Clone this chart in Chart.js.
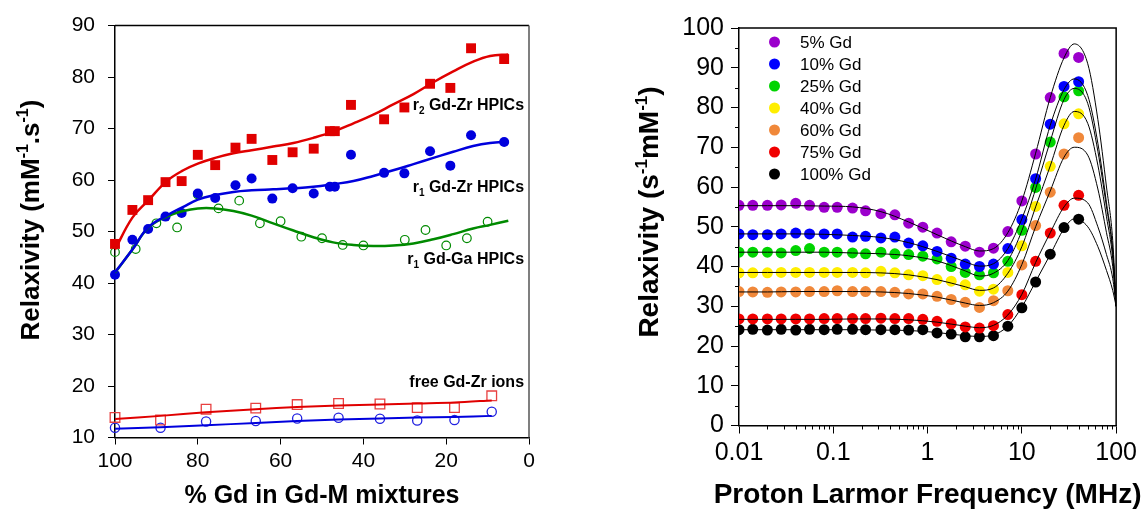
<!DOCTYPE html>
<html>
<head>
<meta charset="utf-8">
<script src="https://cdn.jsdelivr.net/npm/chart.js@4.4.1/dist/chart.umd.min.js"></script>
<style>
  body { margin: 0; background: #fff; width: 1142px; height: 510px; overflow: hidden; position: relative; }
  canvas { position: absolute; top: 0; }
  #left { left: 0; }
  #right { left: 580px; }
</style>
</head>
<body>
<canvas id="left" width="580" height="510"></canvas>
<canvas id="right" width="562" height="510"></canvas>
<script>
// ---- left panel: relaxivity vs % Gd ----
const hpicGd = [100, 95.8, 92.0, 87.8, 83.9, 80.0, 75.8, 70.9, 67.0, 62.0, 57.1, 52.0, 48.1, 46.9, 43.0, 35.0, 30.1, 23.9, 19.0, 14.0, 6.0];
const r2Zr = [47.6, 54.2, 56.1, 59.6, 59.8, 64.9, 62.9, 66.3, 68.0, 63.9, 65.4, 66.1, 69.5, 69.5, 74.6, 71.8, 74.1, 78.7, 77.9, 85.6, 83.5];
const r1Zr = [41.6, 48.4, 50.5, 52.9, 53.6, 57.4, 56.5, 59.0, 60.3, 56.4, 58.4, 57.4, 58.7, 58.7, 64.9, 61.4, 61.3, 65.6, 62.8, 68.7, 67.4];
const gaGd = [100, 95, 90, 85, 80, 75, 70, 65, 60, 55, 50, 45, 40, 30, 25, 20, 15, 10];
const r1Ga = [46.0, 46.6, 51.6, 50.8, 57.2, 54.5, 56.0, 51.6, 52.0, 49.0, 48.7, 47.4, 47.3, 48.4, 50.3, 47.3, 48.7, 51.9];

const fitGd = [100, 95.8, 92, 87.5, 83.5, 80, 75.8, 71.4, 67, 61.8, 56.9, 52.1, 47.3, 42.4, 37.6, 32.8, 27.9, 23.1, 18.3, 13.5, 9.4, 5];
const r2ZrFit = [46.5, 52.7, 56.0, 59.8, 61.9, 63.2, 64.3, 65.2, 65.8, 66.5, 67.2, 68.2, 69.4, 71.0, 72.7, 74.7, 76.7, 79.0, 81.1, 83.0, 84.1, 84.4];
const r1ZrFit = [42.1, 46.5, 50.8, 53.1, 54.8, 56.2, 57.1, 57.7, 58.0, 58.2, 58.4, 58.7, 59.2, 59.8, 60.8, 61.9, 63.1, 64.3, 65.5, 66.6, 67.2, 67.5];
const r1GaFit = [42.0, 46.5, 50.7, 52.9, 54.0, 54.5, 54.5, 54.0, 53.1, 51.6, 50.2, 48.9, 47.9, 47.4, 47.2, 47.3, 47.7, 48.5, 49.5, 50.6, 51.3, 52.1];

const freeGd = [100, 89, 78, 66, 56, 46, 36, 27, 18, 9];
const freeR2 = [13.9, 13.4, 15.5, 15.7, 16.4, 16.6, 16.5, 15.8, 15.8, 18.1];
const freeR1 = [11.9, 11.9, 13.1, 13.2, 13.7, 13.85, 13.65, 13.3, 13.4, 15.0];
const freeR2Fit = [13.6, 14.2, 14.9, 15.5, 15.9, 16.2, 16.4, 16.6, 16.8, 17.2];
const freeR1Fit = [11.7, 12.0, 12.4, 12.8, 13.2, 13.5, 13.7, 13.9, 14.0, 14.2];

const gdTicks = [100, 80, 60, 40, 20, 0];

// ---- right panel: NMRD profiles ----
const freq = [0.01, 0.014, 0.02, 0.028, 0.04, 0.056, 0.08, 0.11, 0.16, 0.22, 0.32, 0.45, 0.63, 0.89, 1.26, 1.78, 2.51, 3.55, 5.0, 7.1, 10, 14, 20, 28, 40];
const nmrdLabels = ['5% Gd', '10% Gd', '25% Gd', '40% Gd', '60% Gd', '75% Gd', '100% Gd'];
const nmrdColors = ['#9b00cc', '#0000ff', '#00d400', '#ffee00', '#f0883a', '#f00000', '#000000'];
const gd5 = [55.4, 55.4, 55.4, 55.5, 55.9, 55.4, 54.9, 54.9, 54.7, 54.0, 53.3, 53.0, 50.9, 49.9, 48.4, 46.2, 45.1, 43.6, 44.6, 48.8, 56.5, 68.3, 82.5, 93.6, 92.6];
const gd10 = [48.2, 48.0, 48.0, 48.2, 48.4, 48.2, 48.2, 48.2, 47.4, 47.6, 47.2, 47.4, 45.9, 45.2, 43.8, 42.1, 40.6, 40.0, 40.6, 44.5, 51.8, 62.1, 75.8, 85.3, 86.5];
const gd25 = [43.6, 43.6, 43.6, 43.4, 44.0, 44.5, 43.6, 43.6, 43.4, 43.2, 43.6, 43.2, 43.0, 42.6, 41.9, 40.0, 38.5, 37.9, 38.4, 41.3, 49.1, 59.9, 71.3, 82.7, 84.2];
const gd40 = [38.4, 38.4, 38.4, 38.5, 38.5, 38.5, 38.5, 38.5, 38.5, 38.4, 38.8, 38.4, 37.9, 37.7, 36.7, 36.3, 35.4, 33.8, 34.3, 38.5, 45.2, 55.1, 65.2, 75.9, 78.4];
const gd60 = [33.7, 33.6, 33.5, 33.6, 33.6, 33.7, 33.7, 33.9, 33.7, 33.7, 33.7, 33.5, 33.1, 33.1, 32.5, 31.7, 31.0, 29.7, 31.4, 33.9, 40.4, 50.3, 58.7, 68.3, 72.4];
const gd75 = [26.8, 26.8, 26.8, 26.8, 26.8, 26.8, 26.9, 26.9, 26.9, 26.9, 27.0, 26.9, 26.9, 26.7, 26.2, 25.6, 24.8, 24.5, 25.1, 27.9, 32.9, 41.3, 48.4, 55.4, 57.9];
const gd100 = [24.1, 24.2, 24.0, 24.2, 24.0, 24.2, 24.1, 24.2, 24.2, 24.1, 24.1, 24.1, 24.0, 24.1, 23.3, 23.0, 22.3, 22.3, 22.6, 25.0, 29.6, 36.1, 43.1, 49.8, 51.9];

const fitFreq = [0.01, 0.02, 0.04, 0.08, 0.16, 0.32, 0.63, 1.26, 2.51, 3.55, 5.0, 7.1, 10, 14, 20, 28, 36, 50, 64, 79, 92, 100];
const gd5Fit = [55.3, 55.3, 55.3, 55.2, 55.0, 53.8, 51.2, 48.0, 45.0, 43.9, 44.5, 48.5, 56.5, 68.5, 82.5, 92.5, 96.0, 91.0, 77.0, 60.0, 46.5, 30.0];
const gd10Fit = [48.2, 48.2, 48.2, 48.1, 47.8, 47.3, 46.0, 43.8, 41.2, 40.1, 40.7, 44.5, 52.0, 62.0, 75.5, 84.5, 87.2, 83.0, 71.0, 56.0, 44.0, 30.0];
const gd25Fit = [43.6, 43.6, 43.6, 43.6, 43.4, 43.2, 42.7, 41.4, 38.9, 37.6, 38.3, 41.5, 49.0, 59.5, 71.5, 82.0, 84.8, 81.0, 69.0, 55.0, 43.5, 30.0];
const gd40Fit = [38.5, 38.5, 38.5, 38.5, 38.5, 38.4, 37.9, 36.7, 34.9, 34.0, 34.6, 38.3, 45.0, 55.0, 65.3, 75.5, 79.0, 76.0, 65.5, 52.5, 42.0, 30.0];
const gd60Fit = [33.6, 33.6, 33.7, 33.7, 33.7, 33.6, 33.2, 32.3, 30.8, 30.2, 30.9, 33.8, 40.5, 50.0, 59.0, 67.5, 70.0, 68.0, 59.5, 48.5, 40.0, 30.0];
const gd75Fit = [26.7, 26.7, 26.7, 26.7, 26.8, 26.8, 26.6, 26.0, 25.0, 24.6, 25.2, 27.8, 33.0, 41.0, 48.5, 55.0, 57.2, 56.0, 50.0, 43.0, 37.0, 30.0];
const gd100Fit = [24.1, 24.1, 24.1, 24.1, 24.1, 24.0, 23.9, 23.4, 22.6, 22.4, 22.8, 25.0, 29.8, 36.2, 43.0, 49.5, 52.0, 50.0, 45.0, 39.0, 34.0, 30.0];

const freqTicks = [0.01, 0.1, 1, 10, 100];

const FONT = '"Liberation Sans", Arial, Helvetica, sans-serif';
const RED = '#e00000', BLUE = '#0000dd', GREEN = '#008a00';

function pts(xs, ys) {
  return xs.map((x, i) => ({ x: x, y: ys[i] }));
}

// text with super/subscripts: parts = [[text, shift]], shift 1 = sup, -1 = sub
function richText(ctx, parts, x, y, size, align, angle) {
  ctx.save();
  ctx.translate(x, y);
  if (angle) ctx.rotate(angle);
  const fontOf = p => 'bold ' + (p[1] ? Math.round(size * 0.62) : size) + 'px ' + FONT;
  let w = 0;
  parts.forEach(p => { ctx.font = fontOf(p); w += ctx.measureText(p[0]).width; });
  let cx = align === 'center' ? -w / 2 : (align === 'right' ? -w : 0);
  ctx.textAlign = 'left';
  ctx.textBaseline = 'alphabetic';
  ctx.fillStyle = '#000';
  parts.forEach(p => {
    ctx.font = fontOf(p);
    const dy = p[1] > 0 ? -size * 0.4 : (p[1] < 0 ? size * 0.28 : 0);
    ctx.fillText(p[0], cx, dy);
    cx += ctx.measureText(p[0]).width;
  });
  ctx.restore();
}

const leftNotes = [
  { parts: [['r', 0], ['2', -1], [' Gd-Zr HPICs', 0]], x: 1.2, y: 73.7 },
  { parts: [['r', 0], ['1', -1], [' Gd-Zr HPICs', 0]], x: 1.2, y: 57.75 },
  { parts: [['r', 0], ['1', -1], [' Gd-Ga HPICs', 0]], x: 1.2, y: 43.7 },
  { parts: [['free Gd-Zr ions', 0]], x: 1.2, y: 19.85 }
];

const leftDecor = {
  id: 'leftDecor',
  afterDraw(chart) {
    const { ctx, chartArea: a, scales: { x, y } } = chart;
    ctx.save();
    ctx.lineWidth = 1.5;
    ctx.strokeStyle = '#000';
    ctx.beginPath();
    ctx.moveTo(a.left, a.top); ctx.lineTo(a.right, a.top);
    ctx.stroke();
    ctx.strokeStyle = '#555';
    ctx.beginPath();
    ctx.moveTo(a.right, a.top); ctx.lineTo(a.right, a.bottom);
    ctx.stroke();
    ctx.restore();
    leftNotes.forEach(n => richText(ctx, n.parts, x.getPixelForValue(n.x), y.getPixelForValue(n.y), 16, 'right'));
    richText(ctx, [['% Gd in Gd-M mixtures', 0]], (a.left + a.right) / 2, 503, 25, 'center');
    richText(ctx, [['Relaxivity (mM', 0], ['-1', 1], ['.s', 0], ['-1', 1], [')', 0]], 38.5, 220, 26, 'center', -Math.PI / 2);
  }
};

function axisStyle(size, pad, tl) {
  return {
    ticks: { color: '#000', font: { family: FONT, size: size }, padding: pad, maxRotation: 0, autoSkip: false },
    grid: { drawOnChartArea: false, drawTicks: true, tickLength: tl, tickColor: '#000', tickWidth: 1 },
    border: { color: '#000', width: 1.5 }
  };
}

new Chart(document.getElementById('left'), {
  type: 'scatter',
  data: {
    datasets: [
      { data: pts(fitGd, r2ZrFit), showLine: true, borderColor: RED, borderWidth: 2.5, pointRadius: 0, tension: 0.4 },
      { data: pts(fitGd, r1ZrFit), showLine: true, borderColor: BLUE, borderWidth: 2.5, pointRadius: 0, tension: 0.4 },
      { data: pts(fitGd, r1GaFit), showLine: true, borderColor: GREEN, borderWidth: 2.5, pointRadius: 0, tension: 0.4 },
      { data: pts(freeGd, freeR2Fit), showLine: true, borderColor: RED, borderWidth: 2, pointRadius: 0, tension: 0.3 },
      { data: pts(freeGd, freeR1Fit), showLine: true, borderColor: BLUE, borderWidth: 2, pointRadius: 0, tension: 0.3 },
      { data: pts(hpicGd, r2Zr), pointStyle: 'rect', pointRadius: 7, backgroundColor: RED, borderColor: RED, borderWidth: 0, clip: false },
      { data: pts(hpicGd, r1Zr), pointStyle: 'circle', pointRadius: 5, backgroundColor: BLUE, borderColor: BLUE, borderWidth: 0, clip: false },
      { data: pts(gaGd, r1Ga), pointStyle: 'circle', pointRadius: 4.3, backgroundColor: 'rgba(0,0,0,0)', borderColor: GREEN, borderWidth: 1.2, clip: false },
      { data: pts(freeGd, freeR2), pointStyle: 'rect', pointRadius: 6.8, backgroundColor: 'rgba(0,0,0,0)', borderColor: '#e84040', borderWidth: 1.3, clip: false },
      { data: pts(freeGd, freeR1), pointStyle: 'circle', pointRadius: 4.6, backgroundColor: 'rgba(0,0,0,0)', borderColor: '#2020e0', borderWidth: 1.3, clip: false }
    ]
  },
  options: {
    responsive: false,
    animation: false,
    layout: { padding: { left: 0, top: 24, right: 51, bottom: 0 } },
    plugins: { legend: { display: false }, tooltip: { enabled: false } },
    scales: {
      x: Object.assign(axisStyle(21, 4, 7), {
        type: 'linear', reverse: true, min: 0, max: 100,
        afterBuildTicks: s => { s.ticks = gdTicks.map(v => ({ value: v })); },
        afterFit: s => { s.height = 72.5; }
      }),
      y: Object.assign(axisStyle(21, 13, 7), {
        type: 'linear', min: 10, max: 90,
        ticks: Object.assign(axisStyle(21, 13, 7).ticks, { stepSize: 10 }),
        afterFit: s => { s.width = 115; }
      })
    }
  },
  plugins: [leftDecor]
});

// ---- right chart ----
const nmrdData = [gd5, gd10, gd25, gd40, gd60, gd75, gd100];
const nmrdFits = [gd5Fit, gd10Fit, gd25Fit, gd40Fit, gd60Fit, gd75Fit, gd100Fit];

const rightDecor = {
  id: 'rightDecor',
  afterDraw(chart) {
    const { ctx, chartArea: a, scales: { x, y } } = chart;
    ctx.save();
    ctx.strokeStyle = '#000';
    ctx.lineWidth = 1.5;
    ctx.beginPath();
    ctx.moveTo(a.left, a.top); ctx.lineTo(a.right, a.top); ctx.lineTo(a.right, a.bottom);
    ctx.stroke();
    // minor ticks
    ctx.lineWidth = 1;
    ctx.beginPath();
    for (let k = -2; k < 2; k++) {
      for (let d = 2; d <= 9; d++) {
        const px = Math.round(x.getPixelForValue(d * Math.pow(10, k))) + 0.5;
        ctx.moveTo(px, a.bottom); ctx.lineTo(px, a.bottom + 4);
      }
    }
    for (let v = 5; v < 100; v += 10) {
      const py = Math.round(y.getPixelForValue(v)) + 0.5;
      ctx.moveTo(a.left, py); ctx.lineTo(a.left - 4, py);
    }
    ctx.stroke();
    // legend
    nmrdLabels.forEach((lab, i) => {
      const ly = 42 + 22 * i;
      ctx.fillStyle = nmrdColors[i];
      ctx.beginPath();
      ctx.arc(194.5, ly, 5.5, 0, Math.PI * 2);
      ctx.fill();
      ctx.fillStyle = '#000';
      ctx.font = '17px ' + FONT;
      ctx.textAlign = 'left';
      ctx.textBaseline = 'middle';
      ctx.fillText(lab, 220, ly + 1);
    });
    ctx.restore();
    richText(ctx, [['Proton Larmor Frequency (MHz)', 0]], (a.left + a.right) / 2, 503, 28, 'center');
    richText(ctx, [['Relaxivity (s', 0], ['-1', 1], ['mM', 0], ['-1', 1], [')', 0]], 78, 212, 28, 'center', -Math.PI / 2);
  }
};

const rightSets = [];
nmrdFits.forEach(f => rightSets.push({
  data: pts(fitFreq, f), showLine: true, borderColor: '#000', borderWidth: 1, pointRadius: 0,
  cubicInterpolationMode: 'monotone', order: 0
}));
nmrdData.forEach((s, i) => rightSets.push({
  data: pts(freq, s), pointStyle: 'circle', pointRadius: 5.5, backgroundColor: nmrdColors[i],
  borderWidth: 0, order: 1
}));

new Chart(document.getElementById('right'), {
  type: 'scatter',
  data: { datasets: rightSets },
  options: {
    responsive: false,
    animation: false,
    layout: { padding: { left: 0, top: 28, right: 24, bottom: 0 } },
    plugins: { legend: { display: false }, tooltip: { enabled: false } },
    scales: {
      x: Object.assign(axisStyle(25, 5, 8), {
        type: 'logarithmic', min: 0.01, max: 100,
        ticks: Object.assign(axisStyle(25, 5, 8).ticks, { callback: v => String(v) }),
        afterBuildTicks: s => { s.ticks = freqTicks.map(v => ({ value: v, major: true })); },
        afterFit: s => { s.height = 84.5; }
      }),
      y: Object.assign(axisStyle(25, 7, 8), {
        type: 'linear', min: 0, max: 100,
        ticks: Object.assign(axisStyle(25, 7, 8).ticks, { stepSize: 10 }),
        afterFit: s => { s.width = 159; }
      })
    }
  },
  plugins: [rightDecor]
});
</script>
</body>
</html>
